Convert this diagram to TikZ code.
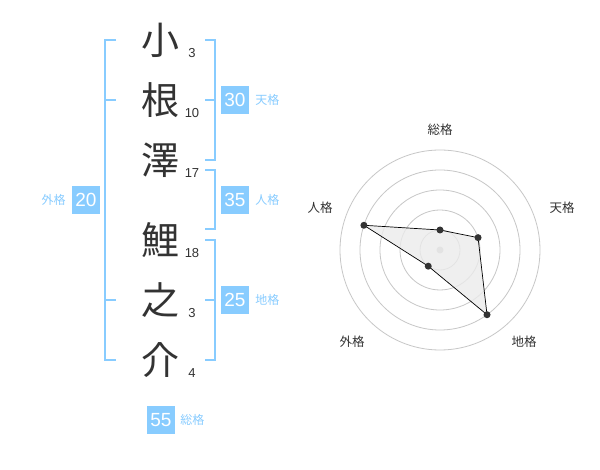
\documentclass[tikz,border=0pt]{standalone}
\usepackage{fontspec}
\setmainfont{Noto Sans CJK JP}
\newfontfamily\digitfont{Liberation Sans}
\usetikzlibrary{positioning}
\definecolor{kakublue}{HTML}{88CCFF}
\definecolor{inkgray}{HTML}{333333}
\tikzset{
  kanji/.style={font=\fontsize{38}{38}\selectfont, text=inkgray, inner sep=0pt},
  strokes/.style={font=\digitfont\fontsize{13}{13}\selectfont, text=inkgray, inner sep=0pt},
  kakubox/.style={fill=kakublue, text=white, minimum size=28pt, inner sep=0pt, font=\digitfont\fontsize{19}{19}\selectfont},
  kakulabel/.style={text=kakublue, font=\fontsize{12}{12}\selectfont, inner sep=0pt},
  bracket/.style={draw=kakublue, line width=2pt},
  ring/.style={draw=black!22, line width=0.8pt},
  axislabel/.style={text=inkgray, font=\fontsize{12.5}{12.5}\selectfont, inner sep=0pt},
  dot/.style={fill=inkgray, draw=none},
}
\begin{document}
\begin{tikzpicture}[x=1pt, y=-1pt]
\useasboundingbox[fill=white] (0,0) rectangle (600,470);

% Name characters and stroke counts
\foreach \ch/\n/\y [count=\i] in {小/3/40, 根/10/100, 澤/17/160, 鯉/18/240, 之/3/300, 介/4/360} {
    \node[kanji] (char\i) at (160,\y) {\ch};
    \node[strokes] (cnt\i) at (192,\y+13) {\n};
}

% Outer bracket
\draw[bracket] (116,40) -- (105,40) -- (105,360) -- (116,360);
\draw[bracket] (105,100) -- (116,100);
\draw[bracket] (105,300) -- (116,300);
\node[kakubox] (gaibox) at (86,200) {20};
\node[kakulabel, left=6pt of gaibox] (gailabel) {外格};

% Heaven bracket
\draw[bracket] (205,40) -- (215,40) -- (215,160) -- (205,160);
\draw[bracket] (205,100) -- (215,100);
\node[kakubox] (tenbox) at (235,100) {30};
\node[kakulabel, right=6pt of tenbox] (tenlabel) {天格};

% Person bracket
\draw[bracket] (205,170) -- (215,170) -- (215,229) -- (205,229);
\node[kakubox] (jinbox) at (235,200) {35};
\node[kakulabel, right=6pt of jinbox] (jinlabel) {人格};

% Earth bracket
\draw[bracket] (205,240) -- (215,240) -- (215,360) -- (205,360);
\draw[bracket] (205,300) -- (215,300);
\node[kakubox] (chibox) at (235,300) {25};
\node[kakulabel, right=6pt of chibox] (chilabel) {地格};

% Total
\node[kakubox] (soubox) at (161,420) {55};
\node[kakulabel, right=5pt of soubox] (soulabel) {総格};

% Radar chart
\coordinate (ctr) at (440,250);
\foreach \r in {20, 40, 60, 80, 100} {
    \draw[ring] (ctr) circle[radius=\r];
}
\fill[black!22] (ctr) circle[radius=3.5];

\foreach \nm/\ang/\r in {sou/-90/20, ten/-18/40, chi/54/80, gai/126/20, jin/198/80} {
    \coordinate (p\nm) at ([shift={(\ang:\r)}]ctr);
}
\draw[fill=black!8, fill opacity=0.8, draw=black, line width=0.7pt]
    (psou) -- (pten) -- (pchi) -- (pgai) -- (pjin) -- cycle;
\foreach \nm in {sou, ten, chi, gai, jin} {
    \fill[dot] (p\nm) circle[radius=3.5];
}

\node[axislabel] (axsou) at (440,130) {総格};
\node[axislabel] (axten) at (562,208) {天格};
\node[axislabel] (axchi) at (524,342) {地格};
\node[axislabel] (axgai) at (352,342) {外格};
\node[axislabel] (axjin) at (320,208) {人格};

\end{tikzpicture}
\end{document}
